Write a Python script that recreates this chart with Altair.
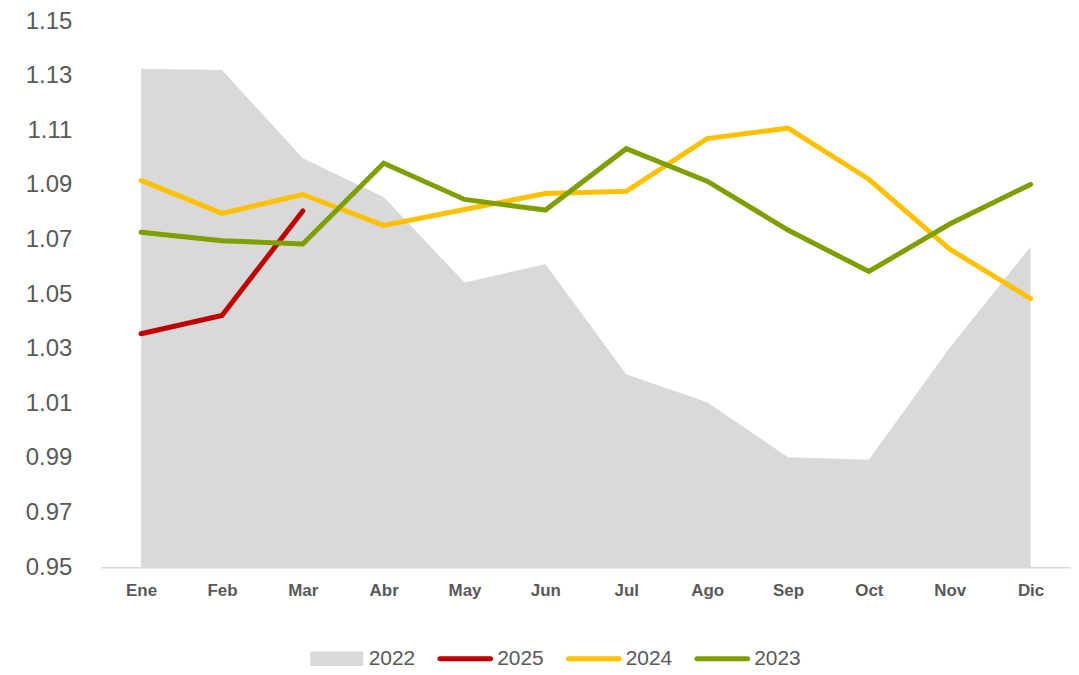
import altair as alt
import pandas as pd

months = ["Ene", "Feb", "Mar", "Abr", "May", "Jun", "Jul", "Ago", "Sep", "Oct", "Nov", "Dic"]
years = ["2022", "2025", "2024", "2023"]
colors = ["#d9d9d9", "#c00000", "#ffc000", "#7f9f00"]

v2022 = [1.1326, 1.1321, 1.0998, 1.0856, 1.0543, 1.0610, 1.0207, 1.0104, 0.9903, 0.9893, 1.0304, 1.0674]
v2025 = [1.0355, 1.0422, 1.0805]
v2024 = [1.0917, 1.0796, 1.0865, 1.0752, 1.0810, 1.0869, 1.0877, 1.1070, 1.1108, 1.0921, 1.0665, 1.0484]
v2023 = [1.0727, 1.0696, 1.0684, 1.0980, 1.0847, 1.0808, 1.1033, 1.0914, 1.0735, 1.0583, 1.0757, 1.0902]

y_ticks = [0.95, 0.97, 0.99, 1.01, 1.03, 1.05, 1.07, 1.09, 1.11, 1.13, 1.15]

rows = []
for yr, vals in zip(years, [v2022, v2025, v2024, v2023]):
    for m, v in zip(months, vals):
        rows.append({"Mes": m, "Año": yr, "Valor": v})
df = pd.DataFrame(rows)

FONT = "Liberation Sans"
GRAY = "#595959"

# legend symbol shapes (unit box -1..1); both share the same vertical extent
LINE_PATH = ("M-0.91,-0.09 L0.91,-0.09 A0.09,0.09 0 0 1 0.91,0.09 L-0.91,0.09 "
             "A0.09,0.09 0 0 1 -0.91,-0.09 Z M0,-0.26 L0,-0.26 M0,0.26 L0,0.26")
RECT_PATH = "M-0.95,-0.26 L0.95,-0.26 L0.95,0.26 L-0.95,0.26 Z"

legend = alt.Legend(
    title=None,
    orient="none",
    legendX=209,
    legendY=612,
    direction="horizontal",
    symbolType=alt.ExprRef(f"datum.value === '2022' ? '{RECT_PATH}' : '{LINE_PATH}'"),
    symbolSize=3136,
    symbolStrokeWidth=0,
    symbolFillColor=alt.ExprRef("scale('color', datum.value)"),
    symbolStrokeColor="transparent",
    symbolOpacity=1,
    labelFont=FONT,
    labelFontSize=21,
    labelColor=GRAY,
    labelOffset=4,
    columnPadding=22,
)

x_enc = alt.X(
    "Mes:N",
    sort=months,
    scale=alt.Scale(type="point", padding=0.5),
    axis=alt.Axis(
        title=None,
        labelAngle=0,
        labelFont=FONT,
        labelFontSize=17,
        labelFontWeight="bold",
        labelColor=GRAY,
        labelPadding=15,
        ticks=False,
        tickSize=0,
        domainColor="#d9d9d9",
        domainWidth=1.5,
        grid=False,
    ),
)
y_enc = alt.Y(
    "Valor:Q",
    scale=alt.Scale(domain=[0.95, 1.15], nice=False, zero=False),
    axis=alt.Axis(
        title=None,
        values=y_ticks,
        format=".2f",
        labelFont=FONT,
        labelFontSize=24,
        labelColor=GRAY,
        labelPadding=29,
        ticks=False,
        tickSize=0,
        domain=False,
        grid=False,
    ),
)
color_enc = alt.Color(
    "Año:N",
    scale=alt.Scale(domain=years, range=colors),
    legend=legend,
    sort=years,
)

base = alt.Chart(df).encode(x=x_enc, y=y_enc, color=color_enc)

area = base.transform_filter(alt.datum["Año"] == "2022").mark_area(opacity=1).encode(y2=alt.Y2(datum=0.95))

lines = [
    base.transform_filter(alt.datum["Año"] == yr).mark_line(strokeWidth=5, strokeCap="round", strokeJoin="miter")
    for yr in ["2025", "2024", "2023"]
]

chart = alt.layer(area, *lines).properties(
    width=974,
    height=548,
    autosize=alt.AutoSizeParams(type="none"),
    padding={"left": 93, "top": 12, "right": 0, "bottom": 99},
).configure_view(stroke=None)

chart.save("out.html", embed_options={"renderer": "svg", "actions": False})
